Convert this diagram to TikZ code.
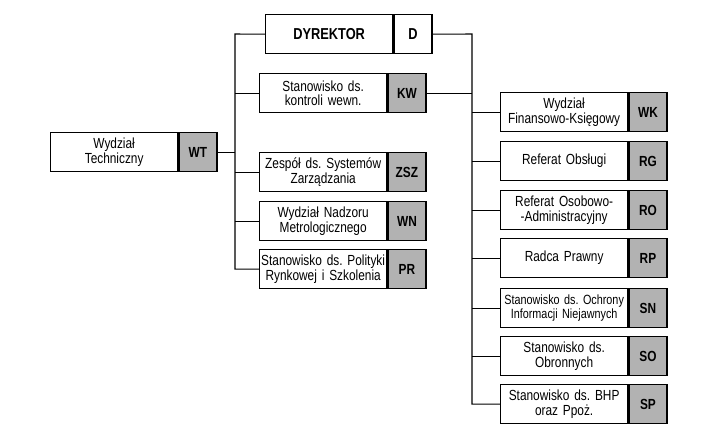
\documentclass[tikz,border=0pt]{standalone}
\usepackage{fontspec}
\setmainfont[FakeStretch=0.81, WordSpace=0.85]{Liberation Sans}
\tikzstyle{nazwa} = [rectangle, draw=black, line width=1.1pt, minimum height=1.17cm, minimum width=3.81cm, text width=3.81cm, text centered, inner sep=0pt, font=\fontsize{12.5}{12.5}\selectfont\frenchspacing]
\tikzstyle{symbol} = [rectangle, draw=black, fill=black!30, line width=1.1pt, minimum height=1.17cm, minimum width=1.14cm, inner sep=0pt, font=\fontsize{12.5}{12.5}\selectfont\bfseries]
\tikzstyle{linia} = [line width=0.9pt]

\begin{document}
\begin{tikzpicture}[x=0.03cm, y=-0.03cm]

        \useasboundingbox (0,0) rectangle (709,441);

        % dyrektor
        \node (D) [nazwa, anchor=north west, font=\fontsize{13.5}{14}\selectfont\bfseries] at (265,14) {DYREKTOR};
        \node (Ds) [symbol, anchor=west, fill=white, font=\fontsize{13.5}{14}\selectfont\bfseries] at (D.east) {D};

        % lewa strona
        \node (WT) [nazwa, anchor=north west] at (50,132) {Wydział\\Techniczny};
        \node (WTs) [symbol, anchor=west] at (WT.east) {WT};

        \node (KW) [nazwa, anchor=north west] at (259,73) {Stanowisko ds.\\kontroli wewn.};
        \node (KWs) [symbol, anchor=west] at (KW.east) {KW};

        \node (ZSZ) [nazwa, anchor=north west] at (259,152) {Zespół ds. Systemów\\Zarządzania};
        \node (ZSZs) [symbol, anchor=west] at (ZSZ.east) {ZSZ};

        \node (WN) [nazwa, anchor=north west] at (259,201) {Wydział Nadzoru\\Metrologicznego};
        \node (WNs) [symbol, anchor=west] at (WN.east) {WN};

        \node (PR) [nazwa, anchor=north west] at (259,249) {Stanowisko ds. Polityki\\Rynkowej i Szkolenia};
        \node (PRs) [symbol, anchor=west] at (PR.east) {PR};

        % prawa strona
        \node (WK) [nazwa, anchor=north west] at (500,92) {Wydział\\Finansowo-Księgowy};
        \node (WKs) [symbol, anchor=west] at (WK.east) {WK};

        \node (RG) [nazwa, anchor=north west] at (500,141) {Referat Obsługi};
        \node (RGs) [symbol, anchor=west] at (RG.east) {RG};

        \node (RO) [nazwa, anchor=north west] at (500,190) {Referat Osobowo-\\-Administracyjny};
        \node (ROs) [symbol, anchor=west] at (RO.east) {RO};

        \node (RP) [nazwa, anchor=north west] at (500,238) {Radca Prawny};
        \node (RPs) [symbol, anchor=west] at (RP.east) {RP};

        \node (SN) [nazwa, anchor=north west, font=\fontsize{11.4}{12.5}\selectfont\frenchspacing] at (500,288) {Stanowisko ds. Ochrony\\Informacji Niejawnych};
        \node (SNs) [symbol, anchor=west] at (SN.east) {SN};

        \node (SO) [nazwa, anchor=north west] at (500,336) {Stanowisko ds.\\Obronnych};
        \node (SOs) [symbol, anchor=west] at (SO.east) {SO};

        \node (SP) [nazwa, anchor=north west] at (500,384) {Stanowisko ds. BHP\\oraz Ppoż.};
        \node (SPs) [symbol, anchor=west] at (SP.east) {SP};

        % linie
        \coordinate (lewa) at (235,34);
        \coordinate (prawa) at (472,34);

        \draw[linia] (D.west) -- (lewa) |- (PR.west);
        \foreach \n in {KW,ZSZ,WN}
            \draw[linia] (lewa |- \n.west) -- (\n.west);
        \draw[linia] (WTs.east) -- (lewa |- WTs.east);

        \draw[linia] (Ds.east) -- (prawa) |- (SP.west);
        \draw[linia] (KWs.east) -- (prawa |- KWs.east);
        \foreach \n in {WK,RG,RO,RP,SN,SO}
            \draw[linia] (prawa |- \n.west) -- (\n.west);

    \end{tikzpicture}
\end{document}
